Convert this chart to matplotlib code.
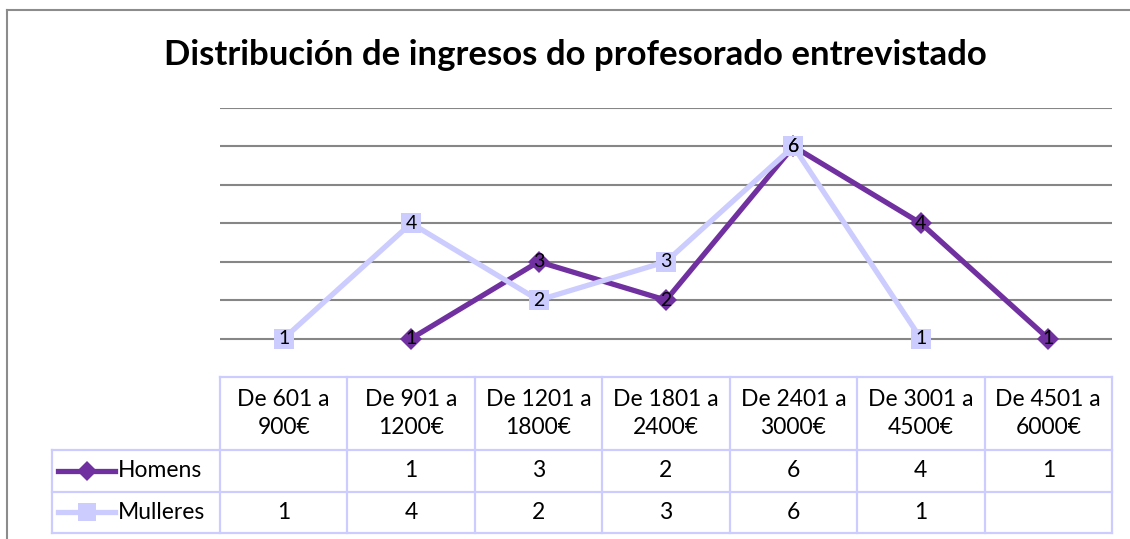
import numpy as np
import matplotlib
matplotlib.use("Agg")
from matplotlib import pyplot as plt
from matplotlib.transforms import blended_transform_factory
from matplotlib.lines import Line2D

# Datos da gráfica
titulo = "Distribución de ingresos do profesorado entrevistado"
categorias = ["De 601 a\n900€", "De 901 a\n1200€", "De 1201 a\n1800€", "De 1801 a\n2400€",
              "De 2401 a\n3000€", "De 3001 a\n4500€", "De 4501 a\n6000€"]
homens = [np.nan, 1, 3, 2, 6, 4, 1]
mulleres = [1, 4, 2, 3, 6, 1, np.nan]
series = [("Homens", homens, "#7030A0", "D", 11),
          ("Mulleres", mulleres, "#CCCCFF", "s", 14)]

# Tamaño en píxeles
W, H = 1130, 539
fig = plt.figure(figsize=(W / 100, H / 100), dpi=100)
plt.rcParams["font.family"] = ["Lato", "DejaVu Sans"]

def fx(px):
    return px / W

def fy(py):
    return 1 - py / H

# Marco do gráfico
fig.add_artist(Line2D([fx(7), fx(7)], [fy(10), fy(539)], color="#8c8c8c", lw=1.5))
fig.add_artist(Line2D([fx(7), fx(1130)], [fy(10), fy(10)], color="#8c8c8c", lw=1.5))

fig.text(fx(575), fy(55), titulo, ha="center", va="center", fontsize=25, fontweight="bold")

ax = fig.add_axes([fx(220), fy(377), fx(1112) - fx(220), fy(108) - fy(377)])
ax.set_xlim(-0.5, len(categorias) - 0.5)
ax.set_ylim(0, 7)
for s in ax.spines.values():
    s.set_visible(False)
ax.set_xticks([])
ax.set_yticks(range(1, 8))
ax.tick_params(left=False, labelleft=False)
ax.grid(axis="y", color="#868686", lw=1.5)
ax.set_axisbelow(True)

x = np.arange(len(categorias))
for nome, vals, cor, mk, ms in series:
    vals = np.array(vals, dtype=float)
    ok = ~np.isnan(vals)
    ax.plot(x[ok], vals[ok], color=cor, lw=3.8, marker=mk, markersize=ms,
            markeredgewidth=0, zorder=3)
for nome, vals, cor, mk, ms in series:
    for xi, v in zip(x, vals):
        if not np.isnan(v):
            ax.text(xi, v, f"{int(v)}", ha="center", va="center", fontsize=14, zorder=5)

# Táboa de datos
tr = blended_transform_factory(ax.transData, fig.transFigure)
cor_taboa = "#CCCCFF"
fs = 16.5
fila_y = [377, 450, 491.5, 533]
x0, x1 = -0.5, len(categorias) - 0.5
legx = ax.transData.inverted().transform((fx(52) * W, 0))[0]

# liñas horizontais
fig.add_artist(Line2D([x0, x1], [fy(fila_y[0])] * 2, transform=tr, color=cor_taboa, lw=1.6))
for py in fila_y[1:]:
    fig.add_artist(Line2D([legx, x1], [fy(py)] * 2, transform=tr, color=cor_taboa, lw=1.6))
# liñas verticais
fig.add_artist(Line2D([legx, legx], [fy(fila_y[1]), fy(fila_y[3])], transform=tr, color=cor_taboa, lw=1.6))
for k in range(len(categorias) + 1):
    fig.add_artist(Line2D([x0 + k, x0 + k], [fy(fila_y[0]), fy(fila_y[3])], transform=tr,
                          color=cor_taboa, lw=1.6))

for xi, cat in zip(x, categorias):
    fig.text(xi, fy((fila_y[0] + fila_y[1]) / 2), cat, transform=tr, ha="center", va="center",
             fontsize=fs, linespacing=1.45)

for r, (nome, vals, cor, mk, ms) in enumerate(series):
    yc = fy((fila_y[r + 1] + fila_y[r + 2]) / 2)
    for xi, v in zip(x, vals):
        if not np.isnan(v):
            fig.text(xi, yc, f"{int(v)}", transform=tr, ha="center", va="center", fontsize=fs)
    fig.add_artist(Line2D([fx(58), fx(115)], [yc, yc], color=cor, lw=3.8))
    fig.add_artist(Line2D([fx(87)], [yc], color=cor, marker=mk, markersize=ms - 1,
                          markeredgewidth=0))
    fig.text(fx(118), yc, nome, ha="left", va="center", fontsize=fs)

fig.savefig("out.png", dpi=100)
